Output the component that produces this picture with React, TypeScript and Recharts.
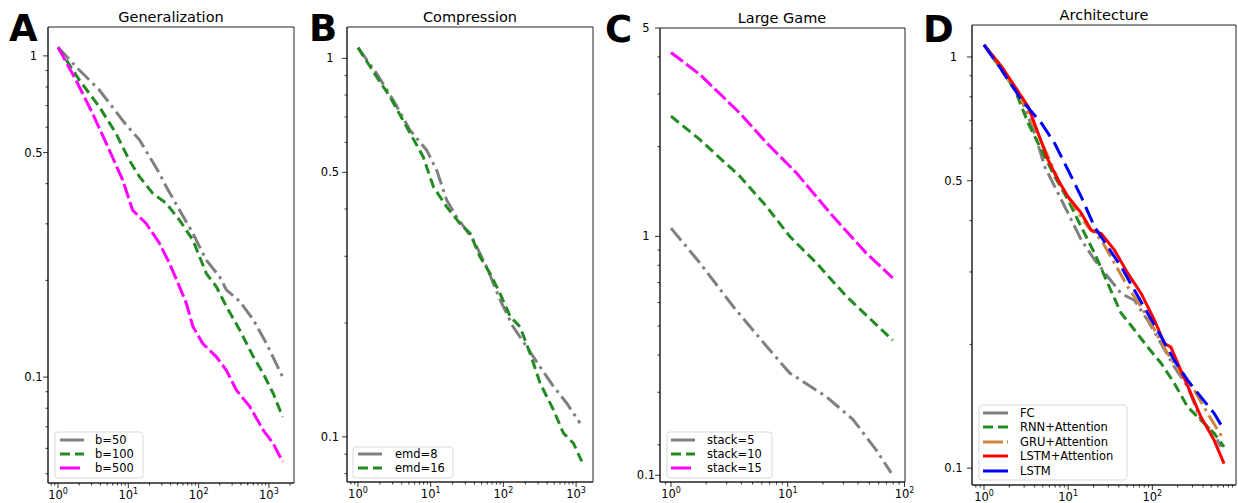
import React from "react";
import { LineChart, Line, XAxis, YAxis, ReferenceArea } from "recharts";

// ---------- Panel A: Generalization ----------
const genStepsB50 = [1, 1.89, 3.85, 9.3, 14.4, 27.7, 34.5, 53.5, 83, 129, 200, 248, 385, 597, 926, 1567];
const genLossB50 = [1.064, 0.915, 0.784, 0.61, 0.548, 0.431, 0.392, 0.331, 0.28, 0.231, 0.205, 0.187, 0.172, 0.151, 0.127, 0.1];
const genStepsB100 = [1, 2.0, 3.85, 6.67, 10.3, 14.4, 22.3, 34.5, 53.5, 83, 129, 179, 248, 385, 597, 830, 1153, 1567];
const genLossB100 = [1.064, 0.842, 0.695, 0.574, 0.474, 0.421, 0.373, 0.348, 0.308, 0.267, 0.21, 0.191, 0.166, 0.14, 0.116, 0.1026, 0.0889, 0.0752];
const genStepsB500 = [1, 1.79, 3.09, 5.35, 8.3, 11.5, 17.9, 27.7, 38.5, 53.5, 66.7, 83, 115, 179, 248, 345, 535, 830, 1153, 1567];
const genLossB500 = [1.064, 0.842, 0.663, 0.51, 0.411, 0.331, 0.301, 0.261, 0.226, 0.191, 0.17, 0.1435, 0.127, 0.1156, 0.105, 0.0911, 0.0809, 0.0684, 0.0621, 0.0545];
const genLabels = ["b=50", "b=100", "b=500"];

// ---------- Panel B: Compression ----------
const compStepsE8 = [1, 1.81, 3.06, 5.2, 8.8, 12.1, 16.6, 22.8, 38.6, 59, 90, 137, 209, 320, 488, 744, 1135];
const compLossE8 = [1.067, 0.911, 0.775, 0.646, 0.572, 0.506, 0.422, 0.381, 0.331, 0.281, 0.23, 0.195, 0.173, 0.153, 0.136, 0.1227, 0.1087];
const compStepsE16 = [1, 1.81, 2.76, 4.67, 7.9, 10.9, 16.6, 25.3, 34.8, 47.7, 65.6, 90, 124, 170, 233, 320, 488, 669, 919, 1197];
const compLossE16 = [1.067, 0.893, 0.791, 0.659, 0.549, 0.458, 0.405, 0.366, 0.345, 0.299, 0.27, 0.239, 0.208, 0.195, 0.166, 0.1386, 0.1178, 0.1023, 0.0962, 0.0861];
const compLabels = ["emd=8", "emd=16"];

// ---------- Panel C: Large Game ----------
const largeStepsS5 = [1, 1.77, 3.41, 6.58, 10.4, 12.7, 21.4, 36.2, 57.3, 76.9];
const largeLossS5 = [1.066, 0.814, 0.582, 0.428, 0.348, 0.331, 0.29, 0.243, 0.192, 0.161];
const largeStepsS10 = [1, 1.77, 3.89, 6.58, 10.4, 17.6, 31.7, 79.4];
const largeLossS10 = [2.53, 2.11, 1.59, 1.26, 1.0, 0.814, 0.63, 0.448];
const largeStepsS15 = [1, 1.77, 3.89, 6.58, 11.9, 24.4, 47, 79.4];
const largeLossS15 = [4.14, 3.49, 2.59, 2.06, 1.63, 1.167, 0.879, 0.725];
const largeLabels = ["stack=5", "stack=10", "stack=15"];

// ---------- Panel D: Architecture ----------
const archStepsFC = [1, 1.62, 2.79, 4.0, 5.27, 6.92, 9.96, 14.3, 20.6, 29.6, 42.6, 61.2, 88, 127, 182, 262, 377, 542, 650];
const archLossFC = [1.07, 0.947, 0.786, 0.652, 0.541, 0.484, 0.417, 0.359, 0.321, 0.292, 0.266, 0.256, 0.229, 0.201, 0.1765, 0.158, 0.131, 0.1215, 0.1127];
const archStepsRNN = [1, 1.62, 2.33, 3.35, 4.81, 6.92, 9.96, 14.3, 20.6, 29.6, 42.6, 61.2, 88, 127, 182, 262, 377, 542, 711];
const archLossRNN = [1.07, 0.93, 0.831, 0.69, 0.594, 0.512, 0.449, 0.386, 0.333, 0.281, 0.238, 0.217, 0.197, 0.18, 0.161, 0.141, 0.131, 0.1215, 0.1127];
const archStepsGRU = [1, 1.62, 2.79, 4.0, 5.77, 8.3, 11.9, 17.2, 24.7, 35.5, 51, 73.5, 106, 152, 218, 314, 452, 711];
const archLossGRU = [1.07, 0.93, 0.786, 0.677, 0.572, 0.484, 0.432, 0.386, 0.359, 0.315, 0.276, 0.247, 0.217, 0.19, 0.17, 0.155, 0.136, 0.117];
const archStepsLSTMAtt = [1, 1.62, 2.33, 3.35, 4.4, 5.77, 7.58, 9.96, 14.3, 18.8, 24.7, 35.5, 51, 73.5, 106, 139, 166, 218, 287, 377, 542, 711];
const archLossLSTMAtt = [1.07, 0.947, 0.847, 0.757, 0.652, 0.562, 0.502, 0.457, 0.417, 0.379, 0.372, 0.339, 0.298, 0.266, 0.229, 0.201, 0.197, 0.173, 0.152, 0.1333, 0.117, 0.1026];
const archStepsLSTM = [1, 1.62, 2.79, 4.81, 6.92, 9.96, 14.3, 20.6, 29.6, 42.6, 61.2, 88, 127, 182, 262, 377, 542, 711];
const archLossLSTM = [1.07, 0.93, 0.786, 0.69, 0.616, 0.531, 0.457, 0.386, 0.345, 0.309, 0.271, 0.238, 0.209, 0.183, 0.1637, 0.149, 0.136, 0.1238];
const archLabels = ["FC", "RNN+Attention", "GRU+Attention", "LSTM+Attention", "LSTM"];

// ---------- Tick labels ----------
const xMajorTicks = [1, 10, 100, 1000];
const yMajorTicksStd = [1, 0.5, 0.1];
const yMajorLabelsStd = ["1", "0.5", "0.1"];
const yMajorTicksLarge = [5, 1, 0.158];
const yMajorLabelsLarge = ["5", "1", "0.1"];

// ---------- styles ----------
const GRAY = "#808080";
const GREEN = "#228B22";
const MAGENTA = "#FF00FF";
const PERU = "#CD853F";
const RED = "#FF0000";
const BLUE = "#0000FF";
const DASHDOT = "16 5 3 5";
const DASHED = "10 5";
const MAGDASH = "15 4";
const LONGDASH = "17 7";
const FONT = "DejaVu Sans, sans-serif";

const zip = (xs: number[], ys: number[]) => xs.map((x, i) => ({ x, y: ys[i] }));

const logTicks = (lo: number, hi: number) => {
  const out: number[] = [];
  for (let k = -3; k <= 4; k++) {
    for (let n = 1; n <= 9; n++) {
      const v = parseFloat((n * Math.pow(10, k)).toPrecision(6));
      if (v >= lo && v <= hi) out.push(v);
    }
  }
  return out;
};

type SeriesDef = { data: { x: number; y: number }[]; color: string; dash?: string; legendDash?: string; label: string };

type PanelDef = {
  L: number; R: number; T: number; B: number;
  xDomain: [number, number]; yDomain: [number, number];
  yMajors: number[]; yLabels: string[]; yLabelOffset: number;
  series: SeriesDef[];
};

const Panel = ({ p }: { p: PanelDef }) => {
  const yAxisW = 45;
  const xAxisH = 20;
  const rightPad = 14;
  const width = p.R - p.L + yAxisW + rightPad;
  const height = 503;
  const majorsX = new Set(xMajorTicks);
  const xTicks = logTicks(p.xDomain[0], p.xDomain[1]);
  const yTicksMinor = logTicks(p.yDomain[0], p.yDomain[1]).filter((v) => !p.yMajors.some((m) => Math.abs(m - v) < 1e-9));
  const yTicks = [...yTicksMinor, ...p.yMajors].sort((a, b) => a - b);

  const renderXTick = (props: any) => {
    const { x, y, payload } = props;
    const v = payload.value as number;
    const major = majorsX.has(v);
    const exp = Math.round(Math.log10(v));
    return (
      <g>
        <line x1={x} x2={x} y1={y} y2={y + (major ? 5 : 2.5)} stroke="#000" strokeWidth={0.8} />
        {major && (
          <text x={x} y={y + 16} textAnchor="middle" fontSize={11.5} fontFamily={FONT} fill="#000">
            10<tspan dy={-5} fontSize={8}>{exp}</tspan>
          </text>
        )}
      </g>
    );
  };

  const renderYTick = (props: any) => {
    const { x, y, payload } = props;
    const v = payload.value as number;
    const idx = p.yMajors.findIndex((m) => Math.abs(m - v) < 1e-9);
    const major = idx >= 0;
    return (
      <g>
        <line x1={x - (major ? 5 : 2.5)} x2={x} y1={y} y2={y} stroke="#000" strokeWidth={0.8} />
        {major && (
          <text x={x - p.yLabelOffset} y={y} dy="0.35em" textAnchor="middle" fontSize={11.5} fontFamily={FONT} fill="#000">
            {p.yLabels[idx]}
          </text>
        )}
      </g>
    );
  };

  return (
    <div style={{ position: "absolute", left: p.L - yAxisW, top: 0, width, height }}>
      <LineChart
        width={width}
        height={height}
        margin={{ top: p.T, right: rightPad, bottom: height - p.B - xAxisH, left: 0 }}
      >
        <XAxis
          dataKey="x"
          type="number"
          scale="log"
          domain={p.xDomain}
          allowDataOverflow
          ticks={xTicks}
          interval={0}
          tick={renderXTick}
          tickLine={false}
          tickSize={0}
          tickMargin={0}
          height={xAxisH}
          axisLine={{ stroke: "#222", strokeWidth: 1 }}
        />
        <YAxis
          type="number"
          scale="log"
          domain={p.yDomain}
          allowDataOverflow
          ticks={yTicks}
          interval={0}
          tick={renderYTick}
          tickLine={false}
          tickSize={0}
          tickMargin={0}
          width={yAxisW}
          axisLine={{ stroke: "#222", strokeWidth: 1 }}
        />
        <ReferenceArea
          x1={p.xDomain[0]}
          x2={p.xDomain[1]}
          y1={p.yDomain[0]}
          y2={p.yDomain[1]}
          fill="none"
          fillOpacity={0}
          stroke="#222"
          strokeWidth={1}
          ifOverflow="visible"
        />
        {p.series.map((s, i) => (
          <Line
            key={i}
            data={s.data}
            dataKey="y"
            type="linear"
            stroke={s.color}
            strokeWidth={3}
            strokeDasharray={s.dash}
            dot={false}
            activeDot={false}
            isAnimationActive={false}
          />
        ))}
      </LineChart>
    </div>
  );
};

const panels: PanelDef[] = [
  {
    L: 48, R: 294, T: 27, B: 483,
    xDomain: [0.72, 2275], yDomain: [0.0468, 1.23],
    yMajors: yMajorTicksStd, yLabels: yMajorLabelsStd, yLabelOffset: 14.5,
    series: [
      { data: zip(genStepsB50, genLossB50), color: GRAY, dash: DASHDOT, legendDash: undefined, label: genLabels[0] },
      { data: zip(genStepsB100, genLossB100), color: GREEN, dash: DASHED, legendDash: DASHED, label: genLabels[1] },
      { data: zip(genStepsB500, genLossB500), color: MAGENTA, dash: MAGDASH, legendDash: "20 4 3 4", label: genLabels[2] },
    ],
  },
  {
    L: 347, R: 593, T: 27, B: 482,
    xDomain: [0.706, 1708], yDomain: [0.076, 1.21],
    yMajors: yMajorTicksStd, yLabels: yMajorLabelsStd, yLabelOffset: 17,
    series: [
      { data: zip(compStepsE8, compLossE8), color: GRAY, dash: DASHDOT, legendDash: undefined, label: compLabels[0] },
      { data: zip(compStepsE16, compLossE16), color: GREEN, dash: DASHED, legendDash: DASHED, label: compLabels[1] },
    ],
  },
  {
    L: 660, R: 905, T: 28, B: 482,
    xDomain: [0.805, 101], yDomain: [0.15, 5.0],
    yMajors: yMajorTicksLarge, yLabels: yMajorLabelsLarge, yLabelOffset: 14,
    series: [
      { data: zip(largeStepsS5, largeLossS5), color: GRAY, dash: DASHDOT, legendDash: undefined, label: largeLabels[0] },
      { data: zip(largeStepsS10, largeLossS10), color: GREEN, dash: DASHED, legendDash: DASHED, label: largeLabels[1] },
      { data: zip(largeStepsS15, largeLossS15), color: MAGENTA, dash: MAGDASH, legendDash: "20 4 3 4", label: largeLabels[2] },
    ],
  },
  {
    L: 972, R: 1236, T: 25, B: 485,
    xDomain: [0.72, 986], yDomain: [0.091, 1.196],
    yMajors: yMajorTicksStd, yLabels: yMajorLabelsStd, yLabelOffset: 18.5,
    series: [
      { data: zip(archStepsFC, archLossFC), color: GRAY, dash: DASHDOT, legendDash: undefined, label: archLabels[0] },
      { data: zip(archStepsRNN, archLossRNN), color: GREEN, dash: DASHED, legendDash: DASHED, label: archLabels[1] },
      { data: zip(archStepsGRU, archLossGRU), color: PERU, dash: DASHDOT, legendDash: "20 4 3 4", label: archLabels[2] },
      { data: zip(archStepsLSTMAtt, archLossLSTMAtt), color: RED, dash: undefined, legendDash: undefined, label: archLabels[3] },
      { data: zip(archStepsLSTM, archLossLSTM), color: BLUE, dash: LONGDASH, legendDash: undefined, label: archLabels[4] },
    ],
  },
];

const titles = [
  { text: "Generalization", x: 171, y: 21.5 },
  { text: "Compression", x: 470, y: 21.5 },
  { text: "Large Game", x: 782, y: 22.5 },
  { text: "Architecture", x: 1104, y: 20 },
];

const letters = [
  { text: "A", x: 9, y: 41 },
  { text: "B", x: 309, y: 41 },
  { text: "C", x: 605, y: 42 },
  { text: "D", x: 923, y: 42 },
];

const legends = [
  { box: [55, 432, 88, 46], rows: [440, 454, 468], s0: 60, s1: 84, tx: 95 },
  { box: [353, 447, 100, 31], rows: [454, 468], s0: 358, s1: 382, tx: 395 },
  { box: [667, 432, 105, 46], rows: [440, 454, 468], s0: 671, s1: 695, tx: 707 },
  { box: [979, 405, 148, 75], rows: [413, 427, 442, 456, 471], s0: 983, s1: 1008, tx: 1020 },
];

export default function App() {
  return (
    <div style={{ position: "absolute", left: 0, top: 0, width: 1238, height: 503, background: "#fff", overflow: "hidden" }}>
      {panels.map((p, i) => (
        <Panel key={i} p={p} />
      ))}
      <svg width={1238} height={503} style={{ position: "absolute", left: 0, top: 0, pointerEvents: "none" }}>
        {titles.map((t, i) => (
          <text key={"t" + i} x={t.x} y={t.y} textAnchor="middle" fontSize={14.5} fontFamily={FONT} fill="#000">
            {t.text}
          </text>
        ))}
        {letters.map((t, i) => (
          <text key={"l" + i} x={t.x} y={t.y} fontSize={37} fontWeight="bold" fontFamily={FONT} fill="#000">
            {t.text}
          </text>
        ))}
        {legends.map((lg, i) => (
          <g key={"lg" + i}>
            <rect x={lg.box[0]} y={lg.box[1]} width={lg.box[2]} height={lg.box[3]} rx={3} fill="#fff" fillOpacity={0.8} stroke="#d9d9d9" strokeWidth={1} />
            {panels[i].series.map((s, j) => (
              <g key={j}>
                <line x1={lg.s0} x2={lg.s1} y1={lg.rows[j]} y2={lg.rows[j]} stroke={s.color} strokeWidth={3} strokeDasharray={s.legendDash} />
                <text x={lg.tx} y={lg.rows[j] + 4} fontSize={11.5} fontFamily={FONT} fill="#000">
                  {s.label}
                </text>
              </g>
            ))}
          </g>
        ))}
      </svg>
    </div>
  );
}
